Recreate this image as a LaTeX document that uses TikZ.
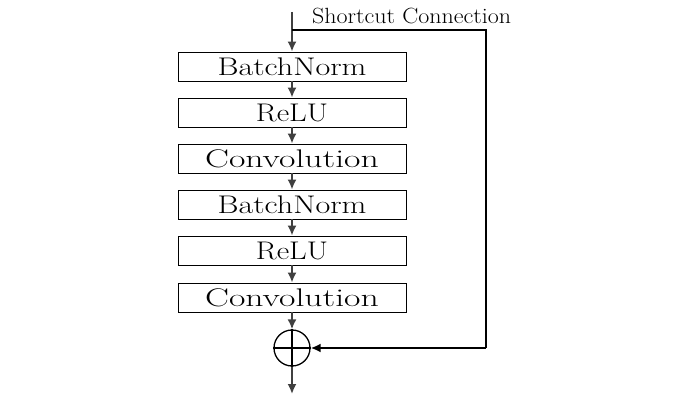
\documentclass[tikz,border=0pt]{standalone}
\usetikzlibrary{arrows.meta}

\newcommand{\stretchx}[2]{\scalebox{#1}[1]{#2}}

\begin{document}
\begin{tikzpicture}[x=1pt,y=-1pt,>={Latex[length=10pt,width=9pt]},
  layer/.style={draw,line width=0.9pt,minimum width=228pt,minimum height=29pt,
    inner sep=0pt,font=\fontsize{25.5}{29}\selectfont},
  flow/.style={->,draw=black!75,line width=1.8pt},
  skip/.style={line width=1.1pt}]

  \useasboundingbox (0,0) rectangle (699,398);

  \def\Cx{292};   % osa sloupce
  \def\Rx{486};   % svisla cast zkratky

  \node[layer] (bn1)   at (\Cx,66.5)  {\stretchx{1.26}{BatchNorm}};
  \node[layer] (relu1) at (\Cx,112.5) {\stretchx{1.2}{ReLU}};
  \node[layer] (conv1) at (\Cx,158.5) {\stretchx{1.4}{Convolution}};
  \node[layer] (bn2)   at (\Cx,204.5) {\stretchx{1.26}{BatchNorm}};
  \node[layer] (relu2) at (\Cx,250.5) {\stretchx{1.2}{ReLU}};
  \node[layer] (conv2) at (\Cx,297.5) {\stretchx{1.4}{Convolution}};

  \node[draw,circle,line width=1.3pt,minimum size=36pt,inner sep=0pt]
       (sum) at (\Cx,348) {};
  \draw[line width=1.3pt] (sum.north)--(sum.south);
  \draw[line width=1.3pt] (sum.west)--(sum.east);

  \coordinate (in)     at (\Cx,12);
  \coordinate (split)  at (\Cx,30);
  \coordinate (corner) at (\Rx,348);
  \coordinate (out)    at (\Cx,394);

  \draw[flow] (in)--(bn1);
  \draw[flow] (bn1)--(relu1);
  \draw[flow] (relu1)--(conv1);
  \draw[flow] (conv1)--(bn2);
  \draw[flow] (bn2)--(relu2);
  \draw[flow] (relu2)--(conv2);
  \draw[flow] (conv2)--(sum);
  \draw[flow] (sum)--(out);

  \draw[skip] (split) -| (corner);
  \draw[->, line width=2.2pt] (corner)--(sum);
  \node[anchor=base west,inner sep=0pt,font=\fontsize{22}{26}\selectfont]
       (label) at (312,24) {\stretchx{1.09}{Shortcut Connection}};

\end{tikzpicture}
\end{document}
